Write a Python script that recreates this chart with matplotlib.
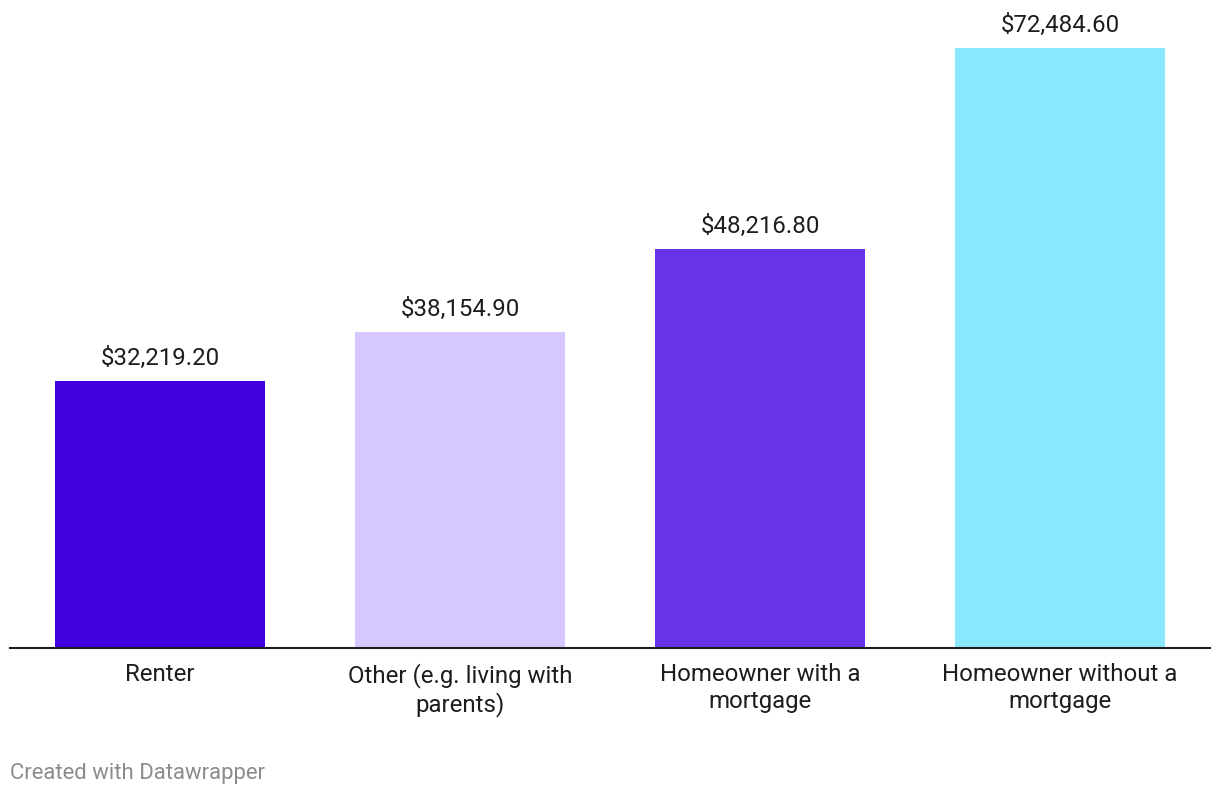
import matplotlib
matplotlib.use("Agg")
import matplotlib.pyplot as plt

plt.rcParams['font.family'] = ['Roboto', 'DejaVu Sans']

categories = ["Renter", "Other (e.g. living with\nparents)",
              "Homeowner with a\nmortgage", "Homeowner without a\nmortgage"]
values = [32219.20, 38154.90, 48216.80, 72484.60]
colors = ["#4200DE", "#D6C8FF", "#6633E6", "#87E8FF"]

W, H = 1220, 796
fig = plt.figure(figsize=(W / 100, H / 100), dpi=100)
# axes: x 10..1210 px, baseline at 648 px, top of tallest bar at 48 px
ax = fig.add_axes([10 / W, (H - 648) / H, 1200 / W, 600 / H])

x = range(len(values))
ax.bar(x, values, width=0.7, color=colors, zorder=2)
ax.set_xlim(-0.5, 3.5)
ax.set_ylim(0, max(values))

for xi, v in zip(x, values):
    ax.annotate("${:,.2f}".format(v), (xi, v), xytext=(0, 11.5),
                textcoords="offset points", ha="center", va="baseline",
                fontsize=17.3, color="#1d1d1d")

ax.set_xticks(list(x))
ax.set_xticklabels(categories, fontsize=17.3, color="#1d1d1d", linespacing=1.22)
ax.tick_params(axis="x", length=0, pad=10.5)
ax.set_yticks([])
for s in ["top", "left", "right"]:
    ax.spines[s].set_visible(False)
ax.spines["bottom"].set_color("#1d1d1d")
ax.spines["bottom"].set_linewidth(1.5)
ax.spines["bottom"].set_zorder(3)

fig.text(10 / W, 1 - 773 / H, "Created with Datawrapper", fontsize=15.9,
         color="#8c8c8c", ha="left", va="center")

fig.savefig("out.png", dpi=100, facecolor="white")
